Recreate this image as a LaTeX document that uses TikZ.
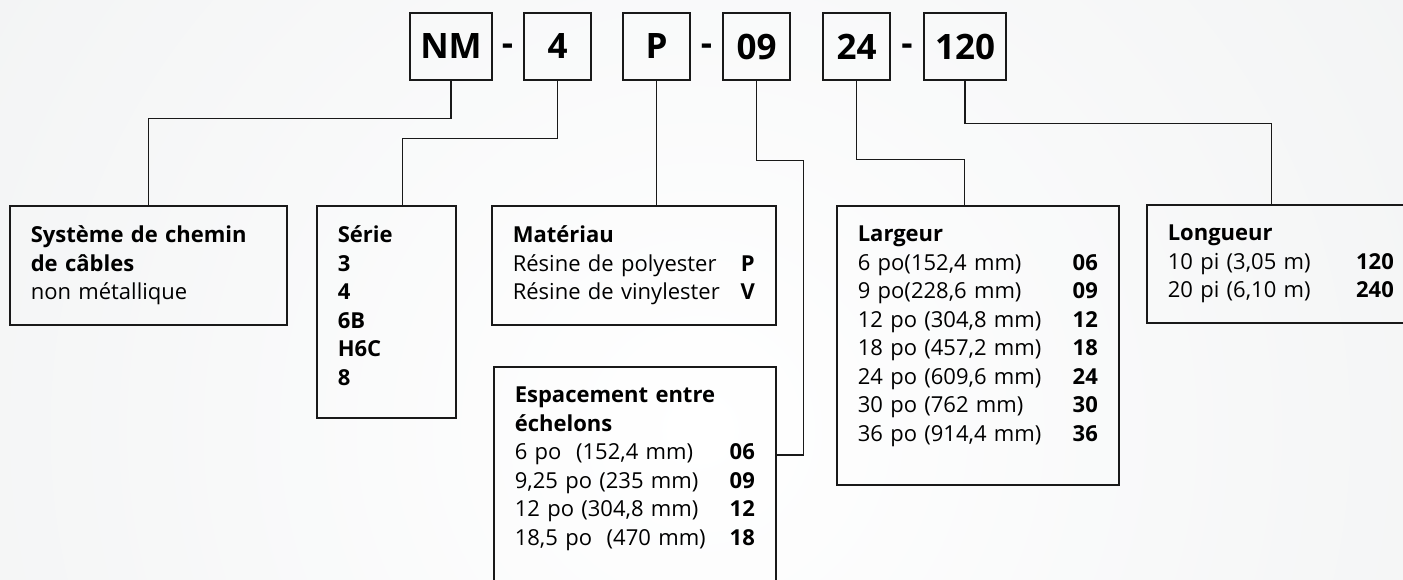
\documentclass[tikz,border=0pt]{standalone}
\usepackage{fontspec}
\setmainfont{Open Sans}
\usepackage{tikz}
\usetikzlibrary{positioning}
\definecolor{bggray}{RGB}{236,238,239}
\definecolor{ink}{RGB}{25,25,25}

\begin{document}
\begin{tikzpicture}[x=1pt, y=-1pt]
\tikzstyle{codebox}=[draw=ink, line width=1.6pt, minimum width=67pt, minimum height=67pt, inner sep=0pt, font=\fontsize{35}{40}\selectfont\bfseries]
\tikzstyle{hyph}=[inner sep=0pt, font=\fontsize{35}{40}\selectfont\bfseries]
\tikzstyle{infobox}=[draw=ink, line width=1.6pt, anchor=north west, inner xsep=21pt, inner ysep=20pt, align=left, font=\fontsize{22}{28.5}\selectfont]
\tikzstyle{link}=[draw=ink, line width=1.3pt]

\def \codey {46.5}
\def \hyphy {50}
\def \boxy {205}

% background
\clip (0,0) rectangle (1403,580);
\shade[inner color=white, outer color=bggray] (700,430) circle[radius=1300pt];

% reference code
\node[codebox, minimum width=82pt]	(nm) at		(451,	\codey)	{NM};
\node[hyph]							(h1) at		(507.5,	\hyphy)	{-};
\node[codebox]						(ser) at	(557.5,	\codey)	{4};
\node[codebox]						(mat) at	(656.5,	\codey)	{P};
\node[hyph]							(h2) at		(706.5,	\hyphy)	{-};
\node[codebox]						(esp) at	(756.5,	\codey)	{09};
\node[codebox]						(lar) at	(856.5,	\codey)	{24};
\node[hyph]							(h3) at		(907,	\hyphy)	{-};
\node[codebox, minimum width=82pt]	(lon) at	(965,	\codey)	{120};

% explanation boxes
\node[infobox, text width=235pt]	(sysbox) at	(9,		\boxy)	{\textbf{Système de chemin}\\\textbf{de câbles}\\non métallique};
\node[infobox, text width=97pt]		(serbox) at	(316,	\boxy)	{\textbf{Série}\\\textbf{3}\\\textbf{4}\\\textbf{6B}\\\textbf{H6C}\\\textbf{8}\rule[-13pt]{0pt}{1pt}};
\node[infobox, text width=242pt]	(matbox) at	(491,	\boxy)	{\textbf{Matériau}\\Résine de polyester\hfill\textbf{P}\\Résine de vinylester\hfill\textbf{V}};
\node[infobox, text width=240pt]	(espbox) at	(493,	366)	{\textbf{Espacement entre}\\\textbf{échelons}\\6 po~ (152,4 mm)\hfill\textbf{06}\\9,25 po (235 mm)\hfill\textbf{09}\\12 po (304,8 mm)\hfill\textbf{12}\\18,5 po~ (470 mm)\hfill\textbf{18}\rule[-60pt]{0pt}{1pt}};
\node[infobox, text width=240pt]	(larbox) at	(836,	\boxy)	{\textbf{Largeur}\\6 po(152,4 mm)\hfill\textbf{06}\\9 po(228,6 mm)\hfill\textbf{09}\\12 po (304,8 mm)\hfill\textbf{12}\\18 po (457,2 mm)\hfill\textbf{18}\\24 po (609,6 mm)\hfill\textbf{24}\\30 po (762 mm)\hfill\textbf{30}\\36 po (914,4 mm)\hfill\textbf{36}\rule[-24pt]{0pt}{1pt}};
\node[infobox, text width=226pt]	(lonbox) at	(1146,	204)	{\textbf{Longueur}\\10 pi (3,05 m)\hfill\textbf{120}\\20 pi (6,10 m)\hfill\textbf{240}};

\coordinate (esptap) at ([yshift=-89pt]espbox.north east);

\path[link] (nm.south) -- ++(0,38) -| (sysbox.north);
\path[link] (ser.south) -- ++(0,58) -| ([xshift=16pt]serbox.north);
\path[link] (mat.south) -- (mat.south |- matbox.north);
\path[link] (esp.south) -- ++(0,80) -| ([xshift=27pt]esptap) -- (esptap);
\path[link] (lar.south) -- ++(0,79) -| ([xshift=-13pt]larbox.north);
\path[link] (lon.south) -- ++(0,43) -| ([xshift=-9pt]lonbox.north);

\end{tikzpicture}
\end{document}
